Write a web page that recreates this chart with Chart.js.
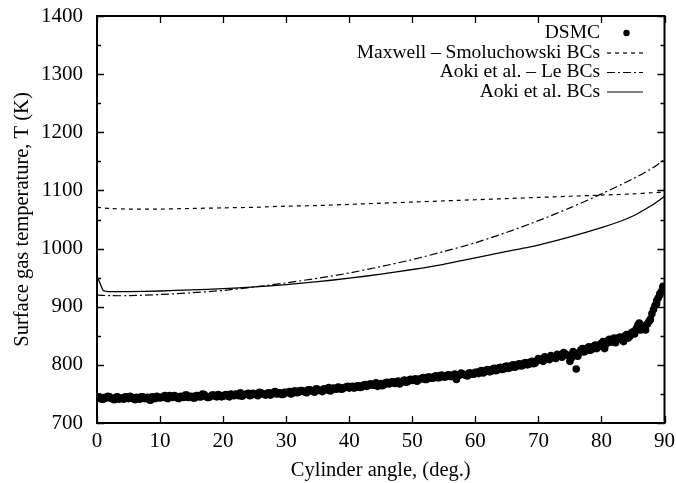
<!DOCTYPE html>
<html>
<head>
<meta charset="utf-8">
<script src="https://cdn.jsdelivr.net/npm/chart.js@4/dist/chart.umd.min.js"></script>
<style>
  html, body { margin: 0; padding: 0; background: #fff; }
  #wrap { width: 676px; height: 483px; }
</style>
</head>
<body>
<div id="wrap"><canvas id="myChart" width="676" height="483"></canvas></div>
<script>
// axis ticks
var xTicks = [0, 10, 20, 30, 40, 50, 60, 70, 80, 90];
var yTicks = [700, 800, 900, 1000, 1100, 1200, 1300, 1400];
var yMinor = [750, 850, 950, 1050, 1150, 1250, 1350];

// DSMC surface gas temperature (points), half-degree samples
var dsmcAngle = [
  0, 0.5, 1, 1.5, 2, 2.5, 3, 3.5, 4, 4.5, 5, 5.5, 6, 6.5, 7, 7.5, 8, 8.5, 9, 9.5,
  10, 10.5, 11, 11.5, 12, 12.5, 13, 13.5, 14, 14.5, 15, 15.5, 16, 16.5, 17, 17.5, 18, 18.5, 19, 19.5,
  20, 20.5, 21, 21.5, 22, 22.5, 23, 23.5, 24, 24.5, 25, 25.5, 26, 26.5, 27, 27.5, 28, 28.5, 29, 29.5,
  30, 30.5, 31, 31.5, 32, 32.5, 33, 33.5, 34, 34.5, 35, 35.5, 36, 36.5, 37, 37.5, 38, 38.5, 39, 39.5,
  40, 40.5, 41, 41.5, 42, 42.5, 43, 43.5, 44, 44.5, 45, 45.5, 46, 46.5, 47, 47.5, 48, 48.5, 49, 49.5,
  50, 50.5, 51, 51.5, 52, 52.5, 53, 53.5, 54, 54.5, 55, 55.5, 56, 56.5, 57, 57.5, 58, 58.5, 59, 59.5,
  60, 60.5, 61, 61.5, 62, 62.5, 63, 63.5, 64, 64.5, 65, 65.5, 66, 66.5, 67, 67.5, 68, 68.5, 69, 69.5,
  70, 70.5, 71, 71.5, 72, 72.5, 73, 73.5, 74, 74.5, 75, 75.5, 76, 76.5, 77, 77.5, 78, 78.5, 79, 79.5,
  80, 80.5, 81, 81.5, 82, 82.5, 83, 83.5, 84, 84.5, 85, 85.5, 86, 86.5, 87, 87.5, 88, 88.5, 89, 89.5, 90,
  85.75, 86.25, 87.75, 88.75, 89.25, 89.75
];
var dsmcTemp = [
  742, 744, 741, 743, 745, 742, 744, 741, 743, 745, 742, 744, 740, 743, 745, 742, 744, 739, 744, 746,
  743, 745, 743, 747, 744, 746, 742, 745, 748, 744, 746, 743, 747, 745, 749, 744, 746, 748, 745, 747,
  746, 749, 745, 748, 750, 747, 746, 749, 751, 748, 750, 747, 752, 749, 751, 748, 753, 750, 752, 749,
  752, 754, 751, 755, 753, 756, 754, 757, 755, 753, 758, 756, 759, 757, 755, 760, 758, 761, 759, 762,
  760, 763, 761, 764, 762, 766, 764, 767, 765, 763, 768, 766, 770, 768, 771, 769, 767, 772, 770, 774,
  773, 776, 774, 777, 775, 779, 777, 780, 778, 782, 779, 782, 780, 783, 775, 782, 784, 782, 786, 784,
  787, 785, 790, 788, 792, 789, 794, 791, 796, 793, 798, 795, 800, 797, 802, 799, 804, 801, 806, 803,
  811, 808, 814, 810, 816, 813, 818, 815, 821, 817, 806, 823, 793, 821, 828, 824, 831, 827, 834, 831,
  837, 828, 842, 839, 846, 843, 848, 840, 852, 849, 857, 862, 872, 866, 860, 874, 888, 902, 915, 926, 931,
  868, 860, 878, 905, 920, 933
];

// DSMC, quarter-degree samples in between
var dsmcAngle2 = [
  0.25, 0.75, 1.25, 1.75, 2.25, 2.75, 3.25, 3.75, 4.25, 4.75, 5.25, 5.75, 6.25, 6.75, 7.25, 7.75, 8.25, 8.75, 9.25, 9.75,
  10.25, 10.75, 11.25, 11.75, 12.25, 12.75, 13.25, 13.75, 14.25, 14.75, 15.25, 15.75, 16.25, 16.75, 17.25, 17.75, 18.25, 18.75, 19.25, 19.75,
  20.25, 20.75, 21.25, 21.75, 22.25, 22.75, 23.25, 23.75, 24.25, 24.75, 25.25, 25.75, 26.25, 26.75, 27.25, 27.75, 28.25, 28.75, 29.25, 29.75,
  30.25, 30.75, 31.25, 31.75, 32.25, 32.75, 33.25, 33.75, 34.25, 34.75, 35.25, 35.75, 36.25, 36.75, 37.25, 37.75, 38.25, 38.75, 39.25, 39.75,
  40.25, 40.75, 41.25, 41.75, 42.25, 42.75, 43.25, 43.75, 44.25, 44.75, 45.25, 45.75, 46.25, 46.75, 47.25, 47.75, 48.25, 48.75, 49.25, 49.75,
  50.25, 50.75, 51.25, 51.75, 52.25, 52.75, 53.25, 53.75, 54.25, 54.75, 55.25, 55.75, 56.25, 56.75, 57.25, 57.75, 58.25, 58.75, 59.25, 59.75,
  60.25, 60.75, 61.25, 61.75, 62.25, 62.75, 63.25, 63.75, 64.25, 64.75, 65.25, 65.75, 66.25, 66.75, 67.25, 67.75, 68.25, 68.75, 69.25, 69.75,
  70.25, 70.75, 71.25, 71.75, 72.25, 72.75, 73.25, 73.75, 74.25, 74.75, 75.25, 75.75, 76.25, 76.75, 77.25, 77.75, 78.25, 78.75, 79.25, 79.75,
  80.25, 80.75, 81.25, 81.75, 82.25, 82.75, 83.25, 83.75, 84.25, 84.75, 85.25, 85.75, 86.25, 86.75, 87.25, 87.75, 88.25, 88.75, 89.25, 89.75
];
var dsmcTemp2 = [
  745, 741, 744, 746, 742, 740, 745, 743, 741, 744, 746, 742, 744, 741, 745, 743, 740, 745, 742, 744,
  744, 747, 742, 745, 747, 743, 746, 744, 748, 745, 743, 747, 745, 750, 746, 744, 748, 746, 749, 745,
  748, 746, 750, 747, 749, 752, 748, 750, 747, 751, 749, 753, 750, 748, 752, 750, 754, 751, 749, 753,
  753, 750, 755, 752, 756, 754, 752, 757, 755, 759, 756, 754, 758, 761, 757, 759, 762, 758, 761, 763,
  762, 760, 764, 761, 765, 763, 767, 765, 769, 766, 764, 769, 767, 771, 768, 772, 770, 774, 771, 775,
  774, 772, 776, 778, 775, 779, 777, 781, 778, 782, 779, 783, 780, 784, 782, 786, 783, 781, 786, 784,
  787, 789, 786, 791, 788, 793, 790, 795, 792, 797, 794, 799, 796, 801, 798, 803, 800, 805, 802, 807,
  809, 806, 812, 809, 814, 811, 817, 813, 819, 816, 812, 820, 815, 826, 822, 829, 825, 832, 828, 835,
  840, 836, 844, 841, 838, 847, 844, 850, 846, 855, 853, 860, 868, 862, 870, 878, 895, 910, 922, 935
];

// Maxwell - Smoluchowski BCs (dashed)
var msAngle = [0, 2, 5, 10, 15, 20, 25, 30, 35, 40, 45, 50, 55, 60, 65, 70, 75, 80, 85, 88, 90];
var msTemp = [1071, 1069, 1068, 1068, 1069, 1070, 1071, 1073, 1074, 1076, 1078, 1080, 1082, 1084, 1086, 1088, 1090, 1092, 1094, 1096, 1097];

// Aoki et al. - Le BCs (dash-dot)
var leAngle = [0, 2, 5, 10, 15, 20, 25, 30, 35, 40, 45, 50, 55, 60, 65, 70, 75, 80, 85, 88, 90];
var leTemp = [920, 919, 919, 921, 924, 928, 934, 941, 949, 958, 969, 981, 995, 1010, 1028, 1048, 1070, 1094, 1120, 1138, 1153];

// Aoki et al. BCs (solid)
var aokiAngle = [0, 0.5, 1, 2, 5, 10, 15, 20, 25, 30, 35, 40, 45, 50, 55, 60, 65, 70, 75, 80, 83, 85, 87, 88.5, 90];
var aokiTemp = [952, 940, 928, 926, 926, 927, 929, 931, 934, 938, 943, 949, 956, 964, 973, 984, 995, 1006, 1020, 1036, 1047, 1056, 1068, 1078, 1090];

var legendNames = ['DSMC', 'Maxwell \u2013 Smoluchowski BCs', 'Aoki et al. \u2013 Le BCs', 'Aoki et al. BCs'];

function pts(a, b) {
    var out = [];
    for (var i = 0; i < a.length; i++) out.push({x: a[i], y: b[i]});
    return out;
}

var FONT = '"Liberation Serif", "Times New Roman", serif';

var frame = {
    id: 'frame',
    afterDatasetsDraw: function(chart) {
        var ctx = chart.ctx, a = chart.chartArea;
        var xs = chart.scales.x, ys = chart.scales.y;
        ctx.save();
        ctx.strokeStyle = '#000';
        ctx.lineWidth = 1.3;
        ctx.setLineDash([]);
        ctx.beginPath();
        for (var i = 0; i < xTicks.length; i++) {
            var px = Math.round(xs.getPixelForValue(xTicks[i])) + 0.5;
            ctx.moveTo(px, a.bottom); ctx.lineTo(px, a.bottom - 7);
            ctx.moveTo(px, a.top); ctx.lineTo(px, a.top + 7);
        }
        for (var j = 0; j < yTicks.length; j++) {
            var py = Math.round(ys.getPixelForValue(yTicks[j])) + 0.5;
            ctx.moveTo(a.left, py); ctx.lineTo(a.left + 7, py);
            ctx.moveTo(a.right, py); ctx.lineTo(a.right - 7, py);
        }
        for (var k = 0; k < yMinor.length; k++) {
            var pm = Math.round(ys.getPixelForValue(yMinor[k])) + 0.5;
            ctx.moveTo(a.left, pm); ctx.lineTo(a.left + 4, pm);
            ctx.moveTo(a.right, pm); ctx.lineTo(a.right - 4, pm);
        }
        ctx.stroke();
        ctx.lineWidth = 2;
        ctx.strokeRect(a.left, a.top, a.right - a.left, a.bottom - a.top);

        // key, top right
        ctx.font = '19.5px ' + FONT;
        ctx.fillStyle = '#000';
        ctx.textAlign = 'right';
        ctx.textBaseline = 'middle';
        var rows = [33, 52.5, 72, 91.5];
        var tx = 600, s0 = 607, s1 = 643;
        for (var r = 0; r < legendNames.length; r++) {
            ctx.fillText(legendNames[r], tx, rows[r]);
        }
        ctx.beginPath();
        ctx.arc(626.5, rows[0], 3.2, 0, Math.PI * 2);
        ctx.fill();
        ctx.lineWidth = 1.2;
        var dashes = [[4, 4], [8, 3, 2, 3], []];
        for (var d = 0; d < 3; d++) {
            ctx.setLineDash(dashes[d]);
            ctx.beginPath();
            ctx.moveTo(s0, rows[d + 1] + 0.5);
            ctx.lineTo(s1, rows[d + 1] + 0.5);
            ctx.stroke();
        }
        ctx.restore();
    }
};

var ctx = document.getElementById('myChart').getContext('2d');
var chart = new Chart(ctx, {
    type: 'scatter',
    data: {
        datasets: [{
            label: legendNames[0],
            data: pts(dsmcAngle, dsmcTemp).concat(pts(dsmcAngle2, dsmcTemp2)),
            backgroundColor: '#000',
            borderColor: '#000',
            pointRadius: 3.8,
            pointBorderWidth: 0,
            showLine: false
        }, {
            label: legendNames[1],
            data: pts(msAngle, msTemp),
            borderColor: '#000',
            borderWidth: 1.2,
            borderDash: [4, 4],
            pointRadius: 0,
            showLine: true,
            tension: 0.3
        }, {
            label: legendNames[2],
            data: pts(leAngle, leTemp),
            borderColor: '#000',
            borderWidth: 1.2,
            borderDash: [8, 3, 2, 3],
            pointRadius: 0,
            showLine: true,
            tension: 0.3
        }, {
            label: legendNames[3],
            data: pts(aokiAngle, aokiTemp),
            borderColor: '#000',
            borderWidth: 1.3,
            pointRadius: 0,
            showLine: true,
            tension: 0.2
        }]
    },
    options: {
        responsive: false,
        animation: false,
        layout: { padding: { top: 16, right: 11.5, left: 0, bottom: 0 } },
        plugins: {
            legend: { display: false },
            tooltip: { enabled: false }
        },
        scales: {
            x: {
                type: 'linear',
                min: 0, max: 90,
                grid: { display: false, drawTicks: false },
                border: { display: false },
                afterBuildTicks: function(s) { s.ticks = xTicks.map(function(v) { return {value: v}; }); },
                afterFit: function(s) { s.height = 60; s.paddingLeft = 0; s.paddingRight = 0; },
                ticks: { color: '#000', padding: 6, maxRotation: 0, font: { family: FONT, size: 21 },
                         callback: function(v) { return String(v); } },
                title: { display: true, text: 'Cylinder angle, (deg.)', color: '#000',
                         padding: { top: 0, bottom: 0 }, font: { family: FONT, size: 20.5 } }
            },
            y: {
                min: 700, max: 1400,
                grid: { display: false, drawTicks: false },
                border: { display: false },
                afterBuildTicks: function(s) { s.ticks = yTicks.map(function(v) { return {value: v}; }); },
                afterFit: function(s) { s.width = 97; s.paddingTop = 0; s.paddingBottom = 0; },
                ticks: { color: '#000', padding: 14, font: { family: FONT, size: 21 },
                         callback: function(v) { return String(v); } },
                title: { display: true, text: 'Surface gas temperature, T (K)', color: '#000',
                         padding: { top: 10, bottom: 10 }, font: { family: FONT, size: 20.5 } }
            }
        }
    },
    plugins: [frame]
});
</script>
</body>
</html>
